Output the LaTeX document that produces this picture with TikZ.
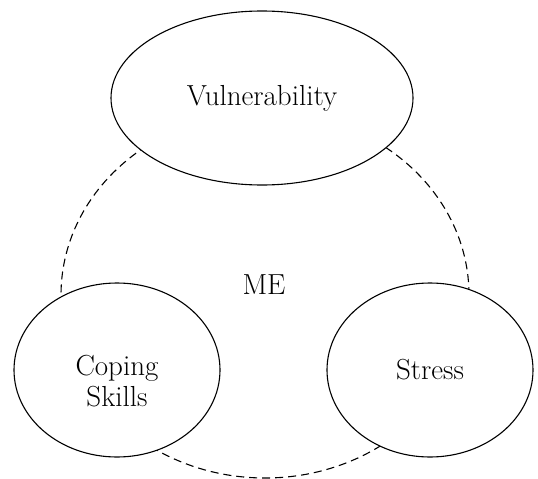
\documentclass[tikz,border=0pt]{standalone}
\usetikzlibrary{shapes.geometric}
\begin{document}
\begin{tikzpicture}[x=1pt,y=-1pt,
  bubble/.style={draw, ellipse, fill=white, line width=1.1pt, inner sep=0pt,
    font=\fontsize{29}{31}\selectfont, align=center},
  ring/.style={draw, line width=1.1pt, dash pattern=on 8pt off 5pt},
  label/.style={font=\fontsize{29}{31}\selectfont, inner sep=0pt, align=center}]
\useasboundingbox (0,0) rectangle (538,479);
\draw[ring] (265,295) ellipse [x radius=204, y radius=183];
\node[bubble, minimum width=302pt, minimum height=174pt] (vul) at (262,98) {Vulnerability};
\node[bubble, minimum width=206pt, minimum height=174pt] (cop) at (117,370) {};
\node[label] (copt) at (117,381) {Coping\\Skills};
\node[bubble, minimum width=206pt, minimum height=174pt] (str) at (430,370) {Stress};
\node[label] (me) at (264,285) {ME};
\end{tikzpicture}
\end{document}
